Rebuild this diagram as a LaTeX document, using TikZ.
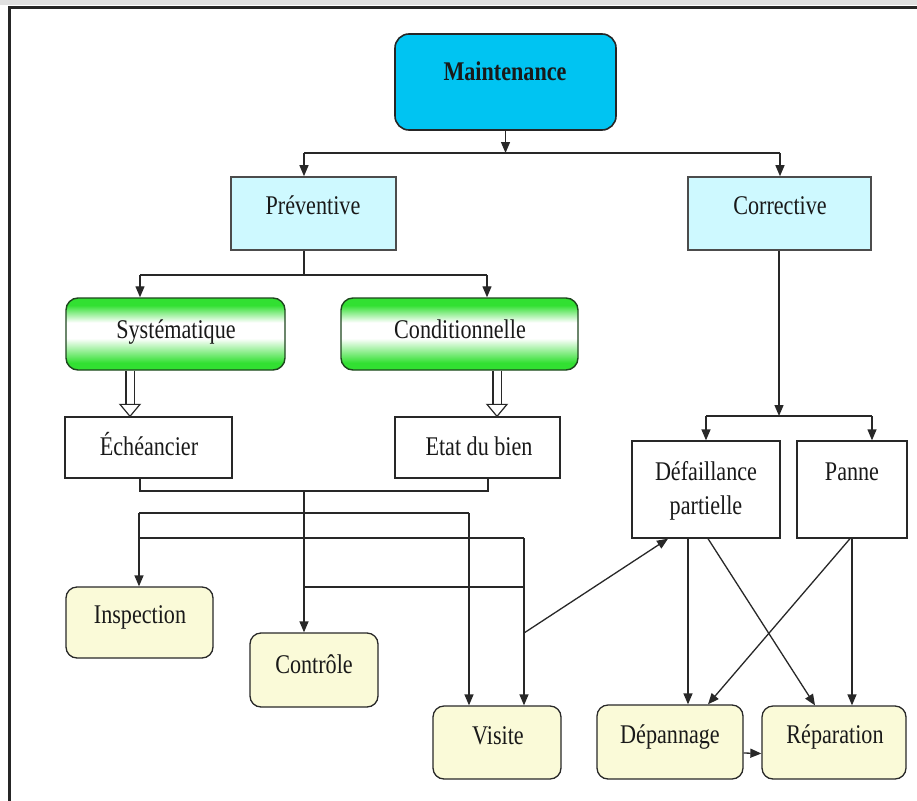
\documentclass[tikz,border=0pt]{standalone}
\usepackage{fontspec}
\setmainfont{Liberation Serif}[FakeStretch=0.82]
\usetikzlibrary{arrows.meta,calc}
\definecolor{lne}{RGB}{40,40,40}
\definecolor{mcyan}{RGB}{0,196,242}
\definecolor{lcyan}{RGB}{206,249,255}
\definecolor{grn}{RGB}{50,224,50}
\definecolor{gbord}{RGB}{30,70,30}
\definecolor{lyel}{RGB}{250,250,216}
\pgfdeclareverticalshading{grnshade}{100bp}{color(0bp)=(grn); color(30bp)=(grn); color(47bp)=(white); color(58bp)=(white); color(70bp)=(grn); color(100bp)=(grn)}
\begin{document}
\begin{tikzpicture}[x=1pt,y=-1pt,
  font=\fontsize{27}{32}\selectfont,
  bx/.style={draw=lne, line width=1.3pt, inner sep=0pt},
  topbox/.style={bx, rounded corners=14pt, fill=mcyan, draw=black!85, line width=1.6pt},
  cybox/.style={bx, fill=lcyan, line width=1.6pt, draw=black!70},
  gbox/.style={bx, rounded corners=12pt, shading=grnshade, draw=gbord, line width=1.4pt},
  wbox/.style={bx, fill=white},
  ybox/.style={bx, rounded corners=11pt, fill=lyel},
  lbl/.style={inner sep=0pt, anchor=base, text=black!90},
  ln/.style={draw=lne, line width=1.3pt},
  arr/.style={ln, -{Triangle[width=9pt,length=11pt]}},
  dbl/.style={draw=lne, line width=1.2pt, double=white, double distance=7pt},
  dhead/.style={draw=lne, line width=1.2pt, fill=white, line join=miter}]
\useasboundingbox (0,0) rectangle (917,800);
\fill[white] (0,0) rectangle (917,800);
\fill[black!12] (0,0) rectangle (917,5);
\draw[line width=3pt, black!85] (9,810) -- (9,8) -- (930,8);

% boxes
\node[topbox, minimum width=221pt, minimum height=96pt] (m) at (505.5,82) {};
\node[cybox, minimum width=165pt, minimum height=73pt] (prev) at (313.5,213.5) {};
\node[cybox, minimum width=183pt, minimum height=73pt] (corr) at (779.5,213.5) {};
\node[gbox, minimum width=219pt, minimum height=72pt] (sys) at (175.5,334) {};
\node[gbox, minimum width=237pt, minimum height=72pt] (cond) at (459.5,334) {};
\node[wbox, minimum width=167pt, minimum height=61pt] (ech) at (148.5,447.5) {};
\node[wbox, minimum width=165pt, minimum height=61pt] (etat) at (477.5,447.5) {};
\node[wbox, minimum width=148pt, minimum height=97pt] (def) at (706,489.5) {};
\node[wbox, minimum width=110pt, minimum height=97pt] (panne) at (852,489.5) {};
\node[ybox, minimum width=147pt, minimum height=71pt] (insp) at (139.5,622.5) {};
\node[ybox, minimum width=128pt, minimum height=74pt] (ctrl) at (314,670) {};
\node[ybox, minimum width=128pt, minimum height=73pt] (visite) at (497,742.5) {};
\node[ybox, minimum width=146pt, minimum height=74pt] (dep) at (670,742) {};
\node[ybox, minimum width=144pt, minimum height=73pt] (rep) at (834,742.5) {};

% labels
\node[lbl, font=\fontsize{27}{32}\selectfont\bfseries] (tm) at (505,80) {Maintenance};
\node[lbl] (tprev) at (313,214) {Préventive};
\node[lbl] (tcorr) at (780,214) {Corrective};
\node[lbl] (tsys) at (176,338) {Systématique};
\node[lbl] (tcond) at (460,338) {Conditionnelle};
\node[lbl] (tech) at (149,455) {Échéancier};
\node[lbl] (tetat) at (479,455) {Etat du bien};
\node[lbl] (tdef1) at (706,480) {Défaillance};
\node[lbl] (tdef2) at (706,514) {partielle};
\node[lbl] (tpanne) at (852,480) {Panne};
\node[lbl] (tinsp) at (140,623) {Inspection};
\node[lbl] (tctrl) at (314,673) {Contrôle};
\node[lbl] (tvis) at (498,744) {Visite};
\node[lbl] (tdep) at (670,743) {Dépannage};
\node[lbl] (trep) at (835,743) {Réparation};

% top level
\coordinate (j1) at (505.5,153);
\coordinate (jp) at (304,153);
\coordinate (jc) at (780,153);
\draw[arr] (m.south) -- (j1);
\draw[ln] (jp) -- (jc);
\draw[arr] (jp) -- (jp |- prev.north);
\draw[arr] (jc) -- (jc |- corr.north);

% preventive branch
\coordinate (j2) at (304,275);
\coordinate (js) at (140,275);
\coordinate (jd) at (487,275);
\draw[ln] (j2 |- prev.south) -- (j2);
\draw[ln] (js) -- (jd);
\draw[arr] (js) -- (js |- sys.north);
\draw[arr] (jd) -- (jd |- cond.north);

% hollow double arrows
\coordinate (ds) at (130,0);
\coordinate (dc) at (497,0);
\draw[dbl] (ds |- sys.south) -- ($(ds |- ech.north)+(0,12pt)$);
\draw[dhead] ($(ds |- ech.north)+(-10pt,12pt)$) -- ($(ds |- ech.north)+(10pt,12pt)$) -- (ds |- ech.north) -- cycle;
\draw[dbl] (dc |- cond.south) -- ($(dc |- etat.north)+(0,12pt)$);
\draw[dhead] ($(dc |- etat.north)+(-10pt,12pt)$) -- ($(dc |- etat.north)+(10pt,12pt)$) -- (dc |- etat.north) -- cycle;

% bracket and distribution lines
\coordinate (b1) at (140,491);
\coordinate (b2) at (488,491);
\coordinate (bc) at (304,491);
\draw[ln] (b1 |- ech.south) -- (b1) -- (b2) -- (b2 |- etat.south);
\draw[arr] (bc) -- (bc |- ctrl.north);
\coordinate (h1a) at (139,513);
\coordinate (h1b) at (469,513);
\coordinate (h2a) at (139,538);
\coordinate (h2b) at (524,538);
\coordinate (h3a) at (304,587);
\coordinate (h3b) at (524,587);
\coordinate (d0) at (524,633);
\draw[ln] (h1a) -- (h1b);
\draw[arr] (h1b) -- (h1b |- visite.north);
\draw[ln] (h2a) -- (h2b);
\draw[arr] (h2b) -- (h2b |- visite.north);
\draw[arr] (h1a) -- (h1a |- insp.north);
\draw[ln] (h3a) -- (h3b);
\draw[arr] (d0) -- ([xshift=-38pt]def.south);

% corrective branch
\coordinate (jr) at (779,416);
\coordinate (jrl) at (706,416);
\coordinate (jrr) at (872,416);
\draw[arr] (corr.south -| jr) -- (jr);
\draw[ln] (jrl) -- (jrr);
\draw[arr] (jrl) -- (jrl |- def.north);
\draw[arr] (jrr) -- (jrr |- panne.north);

% bottom right
\draw[arr] ([xshift=-18pt]def.south) -- ([xshift=18pt]dep.north);
\draw[arr] ([xshift=2pt]def.south) -- ([xshift=-19pt]rep.north);
\draw[arr] ([xshift=-2pt]panne.south) -- ([xshift=38pt]dep.north);
\draw[arr] (panne.south) -- ([xshift=18pt]rep.north);
\draw[arr] ([yshift=-11pt]dep.east) -- ([yshift=-11pt]rep.west);
\end{tikzpicture}
\end{document}
